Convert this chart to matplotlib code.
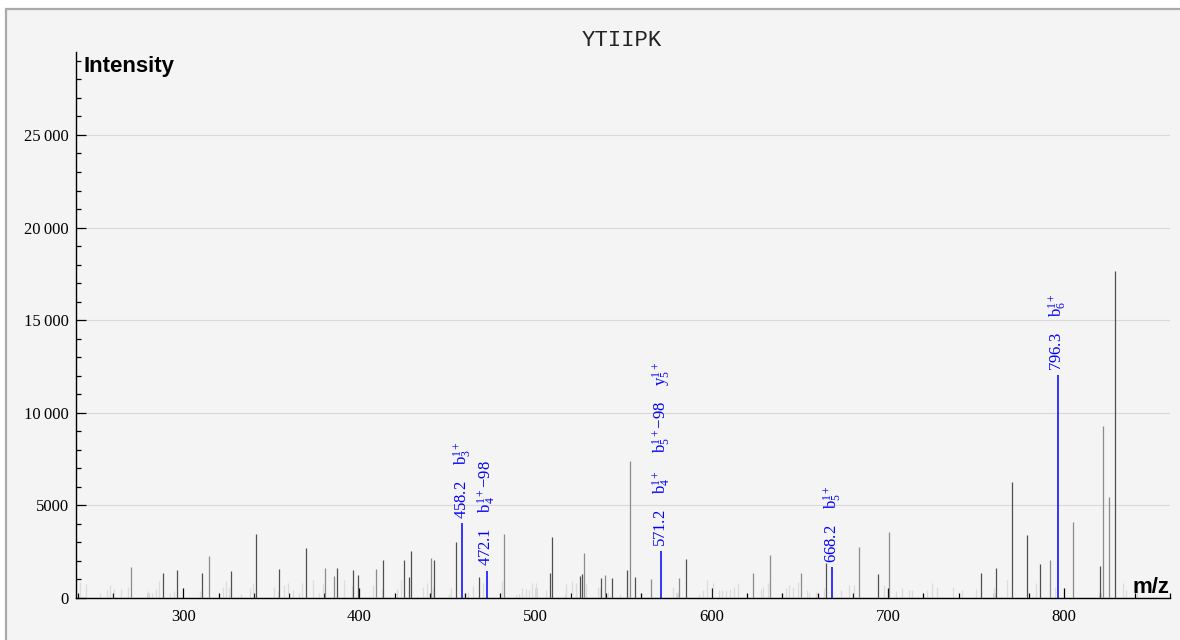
import matplotlib
matplotlib.use("Agg")
import matplotlib.pyplot as plt
from matplotlib.patches import Rectangle
from matplotlib.ticker import MultipleLocator, FuncFormatter

plt.rcParams['mathtext.fontset'] = 'custom'
plt.rcParams['mathtext.rm'] = 'Liberation Serif'
plt.rcParams['mathtext.it'] = 'Liberation Serif:italic'
plt.rcParams['mathtext.bf'] = 'Liberation Serif:bold'

title = "YTIIPK"

# darker unannotated peaks
dark_mz = [288.5, 296.4, 310.6, 327.1, 341.3, 354.3, 369.6, 387.2, 396.3, 399.1,
           413.3, 425.2, 428.1, 429.2, 442.3, 454.6, 467.6, 508.1, 509.5, 525.1,
           526.4, 537.2, 543.3, 551.6, 556.3, 585.5, 664.7, 694.4, 752.5, 761.4,
           770.3, 778.7, 786.4, 820.4, 828.7]
dark_int = [1350, 1510, 1350, 1460, 3460, 1570, 2700, 1620, 1510, 1240,
            2050, 2050, 1130, 2540, 2050, 3020, 1130, 1350, 3290, 1190,
            1300, 1080, 1080, 1510, 1130, 2100, 1890, 1300, 1350, 1620,
            6260, 3400, 1840, 1730, 17660]

# medium gray unannotated peaks
mid_mz = [270.3, 314.6, 380.4, 385.5, 409.4, 440.6, 482.2, 527.4, 539.3, 553.3,
          565.3, 581.4, 623.3, 633.1, 650.4, 683.4, 700.3, 791.9, 804.9, 821.7,
          825.4]
mid_int = [1670, 2270, 1620, 1190, 1570, 2160, 3460, 2430, 1240, 7400,
           1030, 1080, 1350, 2320, 1350, 2750, 3560, 2050, 4100, 9290,
           5450]

# faint background peaks
light_mz = [241.3, 244.5, 252.6, 256.8, 258.6, 260.5, 264.7, 268.4, 279.8, 282.3,
            284.5, 286.4, 292.6, 294.5, 309.2, 322.5, 324.4, 326.2, 332.7, 337.6,
            339.5, 351.2, 353.6, 357.2, 359.3, 362.5, 365.5, 367.6, 373.5, 377.2,
            379.5, 391.4, 395.6, 407.5, 412.6, 421.4, 423.3, 436.2, 438.1, 441.5,
            450.9, 452.2, 461.7, 464.5, 470.2, 480.6, 488.7, 490.6, 492.5, 494.3,
            496.2, 498.1, 500.4, 506.1, 516.4, 517.4, 520.8, 523.1, 528.7, 535.3,
            536.3, 541.0, 547.6, 577.8, 580.1, 592.9, 594.8, 597.3, 600.8, 603.9,
            605.8, 608.0, 610.3, 612.7, 615.0, 627.9, 629.2, 631.6, 642.0, 643.9,
            645.8, 648.6, 653.7, 655.2, 659.0, 663.7, 673.2, 677.9, 680.7, 697.7,
            704.7, 707.7, 711.9, 713.8, 721.9, 725.1, 728.0, 737.0, 741.8, 749.7,
            760.1, 767.6, 783.7, 795.0, 833.1, 835.0, 841.3]
light_int = [880, 760, 290, 430, 700, 470, 470, 610, 400, 290,
             490, 920, 290, 400, 380, 610, 920, 540, 230, 540,
             800, 570, 400, 700, 830, 430, 250, 830, 970, 250,
             730, 970, 650, 700, 470, 490, 970, 580, 830, 610,
             220, 560, 330, 650, 790, 920, 160, 220, 540, 470,
             430, 790, 830, 430, 220, 760, 940, 790, 760, 580,
             540, 330, 220, 580, 330, 220, 430, 970, 830, 430,
             430, 430, 470, 610, 830, 470, 610, 830, 540, 700,
             610, 890, 430, 290, 330, 540, 430, 700, 700, 700,
             400, 540, 430, 430, 430, 790, 610, 610, 430, 490,
             540, 970, 790, 610, 790, 430, 400]

# annotated (matched) peaks
ann_mz = [458.2, 472.1, 571.2, 668.2, 796.3]
ann_int = [4050, 1480, 2540, 1690, 12040]
ann_labels = [
    [r"$\mathrm{b}_3^{1+}$"],
    [r"$\mathrm{b}_4^{1+}$−98"],
    [r"$\mathrm{b}_4^{1+}$", r"$\mathrm{b}_5^{1+}$−98", r"$\mathrm{y}_5^{1+}$"],
    [r"$\mathrm{b}_5^{1+}$"],
    [r"$\mathrm{b}_6^{1+}$"],
]

y_ticks = [0, 5000, 10000, 15000, 20000, 25000]
x_ticks = [300, 400, 500, 600, 700, 800]

W, H = 1180, 640
fig = plt.figure(figsize=(W / 100, H / 100), dpi=100, facecolor='white')
fig.patches.append(Rectangle((6 / W, -0.05), 1.2, 1 - 9 / H + 0.05,
                             transform=fig.transFigure, facecolor='#f4f4f4',
                             edgecolor='#aaaaaa', linewidth=1.6, zorder=-10))

ax = fig.add_axes([76 / W, 42 / H, 1094 / W, 546 / H])
ax.set_zorder(5)
ax.patch.set_visible(False)

ax.vlines(light_mz, 0, light_int, colors='#dcdcdc', linewidth=0.9, zorder=2)
ax.vlines(mid_mz, 0, mid_int, colors='#8c8c8c', linewidth=0.9, zorder=3)
ax.vlines(dark_mz, 0, dark_int, colors='#505050', linewidth=0.9, zorder=3)
ax.vlines(ann_mz, 0, ann_int, colors='#0000ff', linewidth=1.1, zorder=4)

sep = "    "
for mz, it, labs in zip(ann_mz, ann_int, ann_labels):
    txt = f"{mz:.1f}" + sep + sep.join(labs)
    ax.annotate(txt, xy=(mz, it), xytext=(0.5, 3), textcoords='offset points',
                rotation=90, ha='center', va='bottom', color='#0000ff',
                fontsize=12, family='Liberation Serif', zorder=5)

ax.set_xlim(239.1, 860.0)
ax.set_ylim(0, 29480)

ax.set_xticks(x_ticks)
ax.set_yticks(y_ticks)
ax.xaxis.set_minor_locator(MultipleLocator(20))
ax.yaxis.set_minor_locator(MultipleLocator(1000))


def yfmt(v, pos):
    v = int(round(v))
    if v >= 10000:
        return f"{v // 1000}\u2009{v % 1000:03d}"
    return str(v)


ax.yaxis.set_major_formatter(FuncFormatter(yfmt))
ax.tick_params(which='major', direction='in', length=7.2, width=0.9, color='black',
               labelsize=12)
ax.tick_params(which='minor', direction='in', length=3.6, width=0.9, color='black')
ax.tick_params(axis='x', which='major', pad=8)
ax.tick_params(axis='y', which='major', pad=5)
for lab in ax.get_xticklabels() + ax.get_yticklabels():
    lab.set_family('Liberation Serif')

ax.grid(axis='y', which='major', color='#d8d8d8', linewidth=0.8, zorder=1)
ax.set_axisbelow(True)
for s in ['top', 'right']:
    ax.spines[s].set_visible(False)
ax.spines['left'].set_linewidth(1.0)
ax.spines['bottom'].set_linewidth(1.0)

ax.text(0.0065, 0.992, "Intensity", transform=ax.transAxes, ha='left', va='top',
        fontsize=16, fontweight='bold', family='Liberation Sans')
ax.text(0.999, 0.009, "m/z", transform=ax.transAxes, ha='right', va='baseline',
        fontsize=16, fontweight='bold', family='Liberation Sans', zorder=6)

fig.text(622 / W, 1 - 41 / H, title, ha='center', va='center', fontsize=16,
         family='Liberation Mono', color='#222222')

fig.savefig('out.png', dpi=100, facecolor=fig.get_facecolor())
